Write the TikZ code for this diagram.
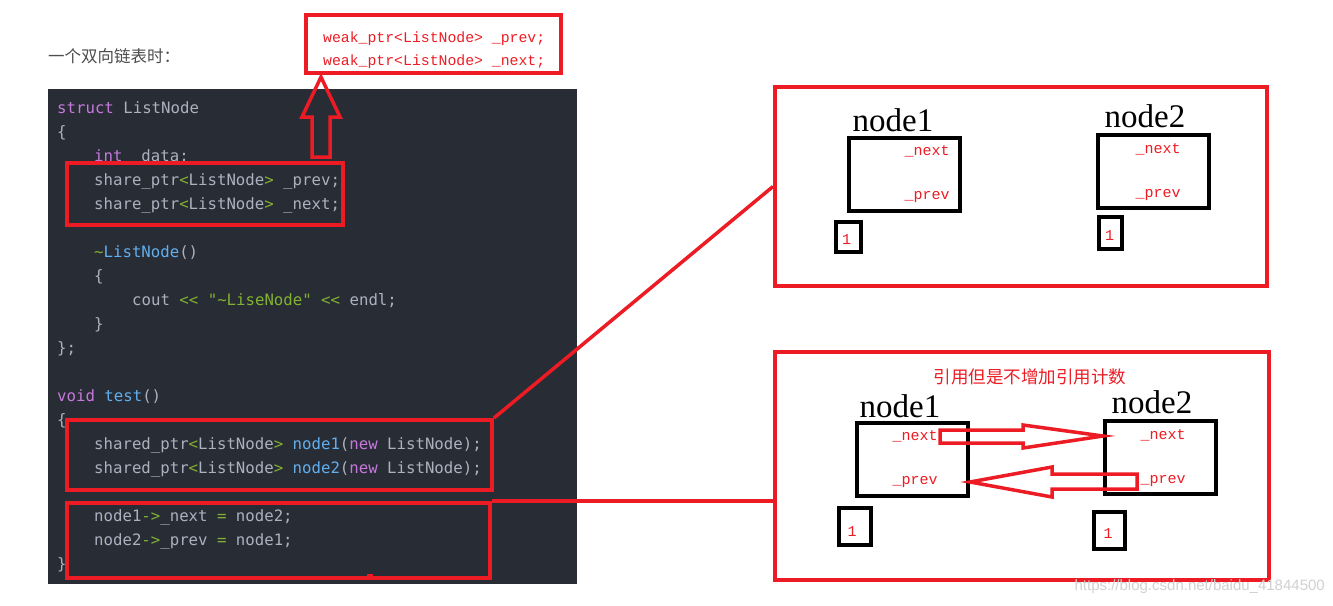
\documentclass[tikz,border=0pt]{standalone}
\usepackage{fontspec}
\setmainfont{Liberation Serif}
\newfontfamily\cjkf{Noto Sans CJK SC}
\newfontfamily\codef{DejaVu Sans Mono}
\newfontfamily\lmono{Liberation Mono}
\newfontfamily\wmf{Liberation Sans}
\definecolor{codebg}{RGB}{40,44,52}
\definecolor{codefg}{RGB}{171,178,191}
\definecolor{kwc}{RGB}{198,120,221}
\definecolor{fnc}{RGB}{97,175,239}
\definecolor{grc}{RGB}{130,178,50}
\definecolor{myred}{RGB}{237,28,36}
\definecolor{txtgray}{RGB}{77,77,77}
\newcommand{\kw}[1]{\textcolor{kwc}{#1}}
\newcommand{\fn}[1]{\textcolor{fnc}{#1}}
\newcommand{\gr}[1]{\textcolor{grc}{#1}}
\tikzset{
  code/.style={anchor=base west,inner sep=0pt,text=codefg,font=\codef\fontsize{15.7}{18}\selectfont},
  redbox/.style={draw=myred,line width=4pt,inner sep=0pt},
  nbox/.style={draw=black,line width=4pt,inner sep=0pt,minimum width=111pt,minimum height=73pt},
  cntbox/.style={draw=black,line width=4pt,inner sep=0pt},
  field/.style={text=myred,inner sep=0pt,font=\lmono\fontsize{15}{17}\selectfont},
  cnttext/.style={text=myred,inner sep=0pt,font=\lmono\fontsize{15}{17}\selectfont},
  nlabel/.style={inner sep=0pt,font=\fontsize{33}{36}\selectfont},
  redline/.style={draw=myred,line width=3.5pt},
  hollow/.style={draw=myred,line width=3.5pt,line join=miter},
}
\begin{document}
\begin{tikzpicture}[x=1pt,y=-1pt]
\useasboundingbox[fill=white] (0,0) rectangle (1333,605);

% heading
\node[anchor=west,inner sep=0pt,text=txtgray,font=\cjkf\fontsize{16.5}{18}\selectfont] (title) at (48,56) {一个双向链表时：};

% weak_ptr box
\node[redbox,minimum width=255pt,minimum height=58pt] (weak) at (433.5,44) {};
\node[anchor=base west,inner sep=0pt,text=myred,font=\lmono\fontsize{14.8}{17}\selectfont] (w1) at (323,42) {weak\_ptr<ListNode> \_prev;};
\node[anchor=base west,inner sep=0pt,text=myred,font=\lmono\fontsize{14.8}{17}\selectfont] (w2) at (323,65) {weak\_ptr<ListNode> \_next;};

% code panel
\node[fill=codebg,inner sep=0pt,minimum width=529pt,minimum height=495pt,anchor=north west] (panel) at (48,89) {};
\node[code] (l1) at (57,113) {\kw{struct} ListNode};
\node[code] (l2) at (57,137) {\{};
\node[code] (l3) at (94,161) {\kw{int}\ \ data;};
\node[code] (l4) at (94,185) {share\_ptr\gr{<}ListNode\gr{>} \_prev;};
\node[code] (l5) at (94,209) {share\_ptr\gr{<}ListNode\gr{>} \_next;};
\node[code] (l7) at (94,257) {\gr{\textasciitilde}\fn{ListNode}()};
\node[code] (l8) at (94,281) {\{};
\node[code] (l9) at (132,305) {cout \gr{<<} \gr{"\textasciitilde LiseNode"} \gr{<<} endl;};
\node[code] (l10) at (94,329) {\}};
\node[code] (l11) at (57,353) {\};};
\node[code] (l13) at (57,401) {\kw{void} \fn{test}()};
\node[code] (l14) at (57,425) {\{};
\node[code] (l15) at (94,449) {shared\_ptr\gr{<}ListNode\gr{>} \fn{node1}(\kw{new} ListNode);};
\node[code] (l16) at (94,473) {shared\_ptr\gr{<}ListNode\gr{>} \fn{node2}(\kw{new} ListNode);};
\node[code] (l18) at (94,521) {node1\gr{->}\_next \gr{=} node2;};
\node[code] (l19) at (94,545) {node2\gr{->}\_prev \gr{=} node1;};
\node[code] (l20) at (57,569) {\}};

% red boxes on code
\node[redbox,minimum width=276pt,minimum height=62pt] (cb1) at (205,194) {};
\node[redbox,minimum width=425pt,minimum height=70pt] (cb2) at (279.5,455) {};
\node[redbox,minimum width=423pt,minimum height=75pt] (cb3) at (278.5,540.5) {};
\node[fill=myred,inner sep=0pt,minimum size=6pt] (dot) at (370,577) {};

% up hollow arrow
\draw[hollow] (312,157) -- (312,117) -- (302,117) -- (321,77) -- (340,117) -- (330,117) -- (330,157) -- cycle;

% right boxes
\node[redbox,minimum width=492pt,minimum height=199pt] (rb1) at (1021,186.5) {};
\node[redbox,minimum width=494pt,minimum height=228pt] (rb2) at (1022,466) {};

% connectors
\draw[redline] (cb2.north east) -- (rb1.west);
\draw[redline] (cb3.north east) -- (cb3.north east -| rb2.west);

% upper box content
\node[nlabel] (u1lab) at (893,120) {node1};
\node[nlabel] (u2lab) at (1145,116) {node2};
\node[nbox] (u1) at (904.5,174.5) {};
\node[nbox] (u2) at (1153.5,171.5) {};
\node[field] (u1n) at (927,151) {\_next};
\node[field] (u1p) at (927,197) {\_prev};
\node[field] (u2n) at (1158,149) {\_next};
\node[field] (u2p) at (1158,195) {\_prev};
\node[cntbox,minimum width=25pt,minimum height=30pt] (k1) at (848.5,237) {};
\node[cnttext] (k1t) at (846.5,240) {1};
\node[cntbox,minimum width=23pt,minimum height=32pt] (k2) at (1110.5,233) {};
\node[cnttext] (k2t) at (1109.5,236) {1};

% lower box content
\node[anchor=center,inner sep=0pt,text=myred,font=\cjkf\fontsize{17.5}{20}\selectfont] (cap) at (1030,377) {引用但是不增加引用计数};
\node[nlabel] (d1lab) at (900,406) {node1};
\node[nlabel] (d2lab) at (1152,402) {node2};
\node[nbox] (d1) at (912.5,459.5) {};
\node[nbox] (d2) at (1160.5,457.5) {};
\node[field] (d1n) at (915,436) {\_next};
\node[field] (d1p) at (915,482) {\_prev};
\node[field] (d2n) at (1163,435) {\_next};
\node[field] (d2p) at (1163,481) {\_prev};
\node[cntbox,minimum width=32pt,minimum height=37pt] (k3) at (855,526.5) {};
\node[cnttext] (k3t) at (852,532) {1};
\node[cntbox,minimum width=31pt,minimum height=37pt] (k4) at (1109.5,530.5) {};
\node[cnttext] (k4t) at (1108,534) {1};

% hollow arrows between nodes
\draw[hollow] (940,430) -- (1023,430) -- (1023,425) -- (d2.west |- 0,436) -- (1023,448) -- (1023,443) -- (940,443) -- cycle;
\draw[hollow] (1137,474) -- (1052,474) -- (1052,467) -- (d1.east |- 0,482) -- (1052,497) -- (1052,489) -- (1137,489) -- cycle;

% watermark
\node[anchor=east,inner sep=0pt,text=black!18,font=\wmf\fontsize{15}{17}\selectfont] (wm) at (1325,587) {https://blog.csdn.net/baidu\_41844500};
\end{tikzpicture}
\end{document}
